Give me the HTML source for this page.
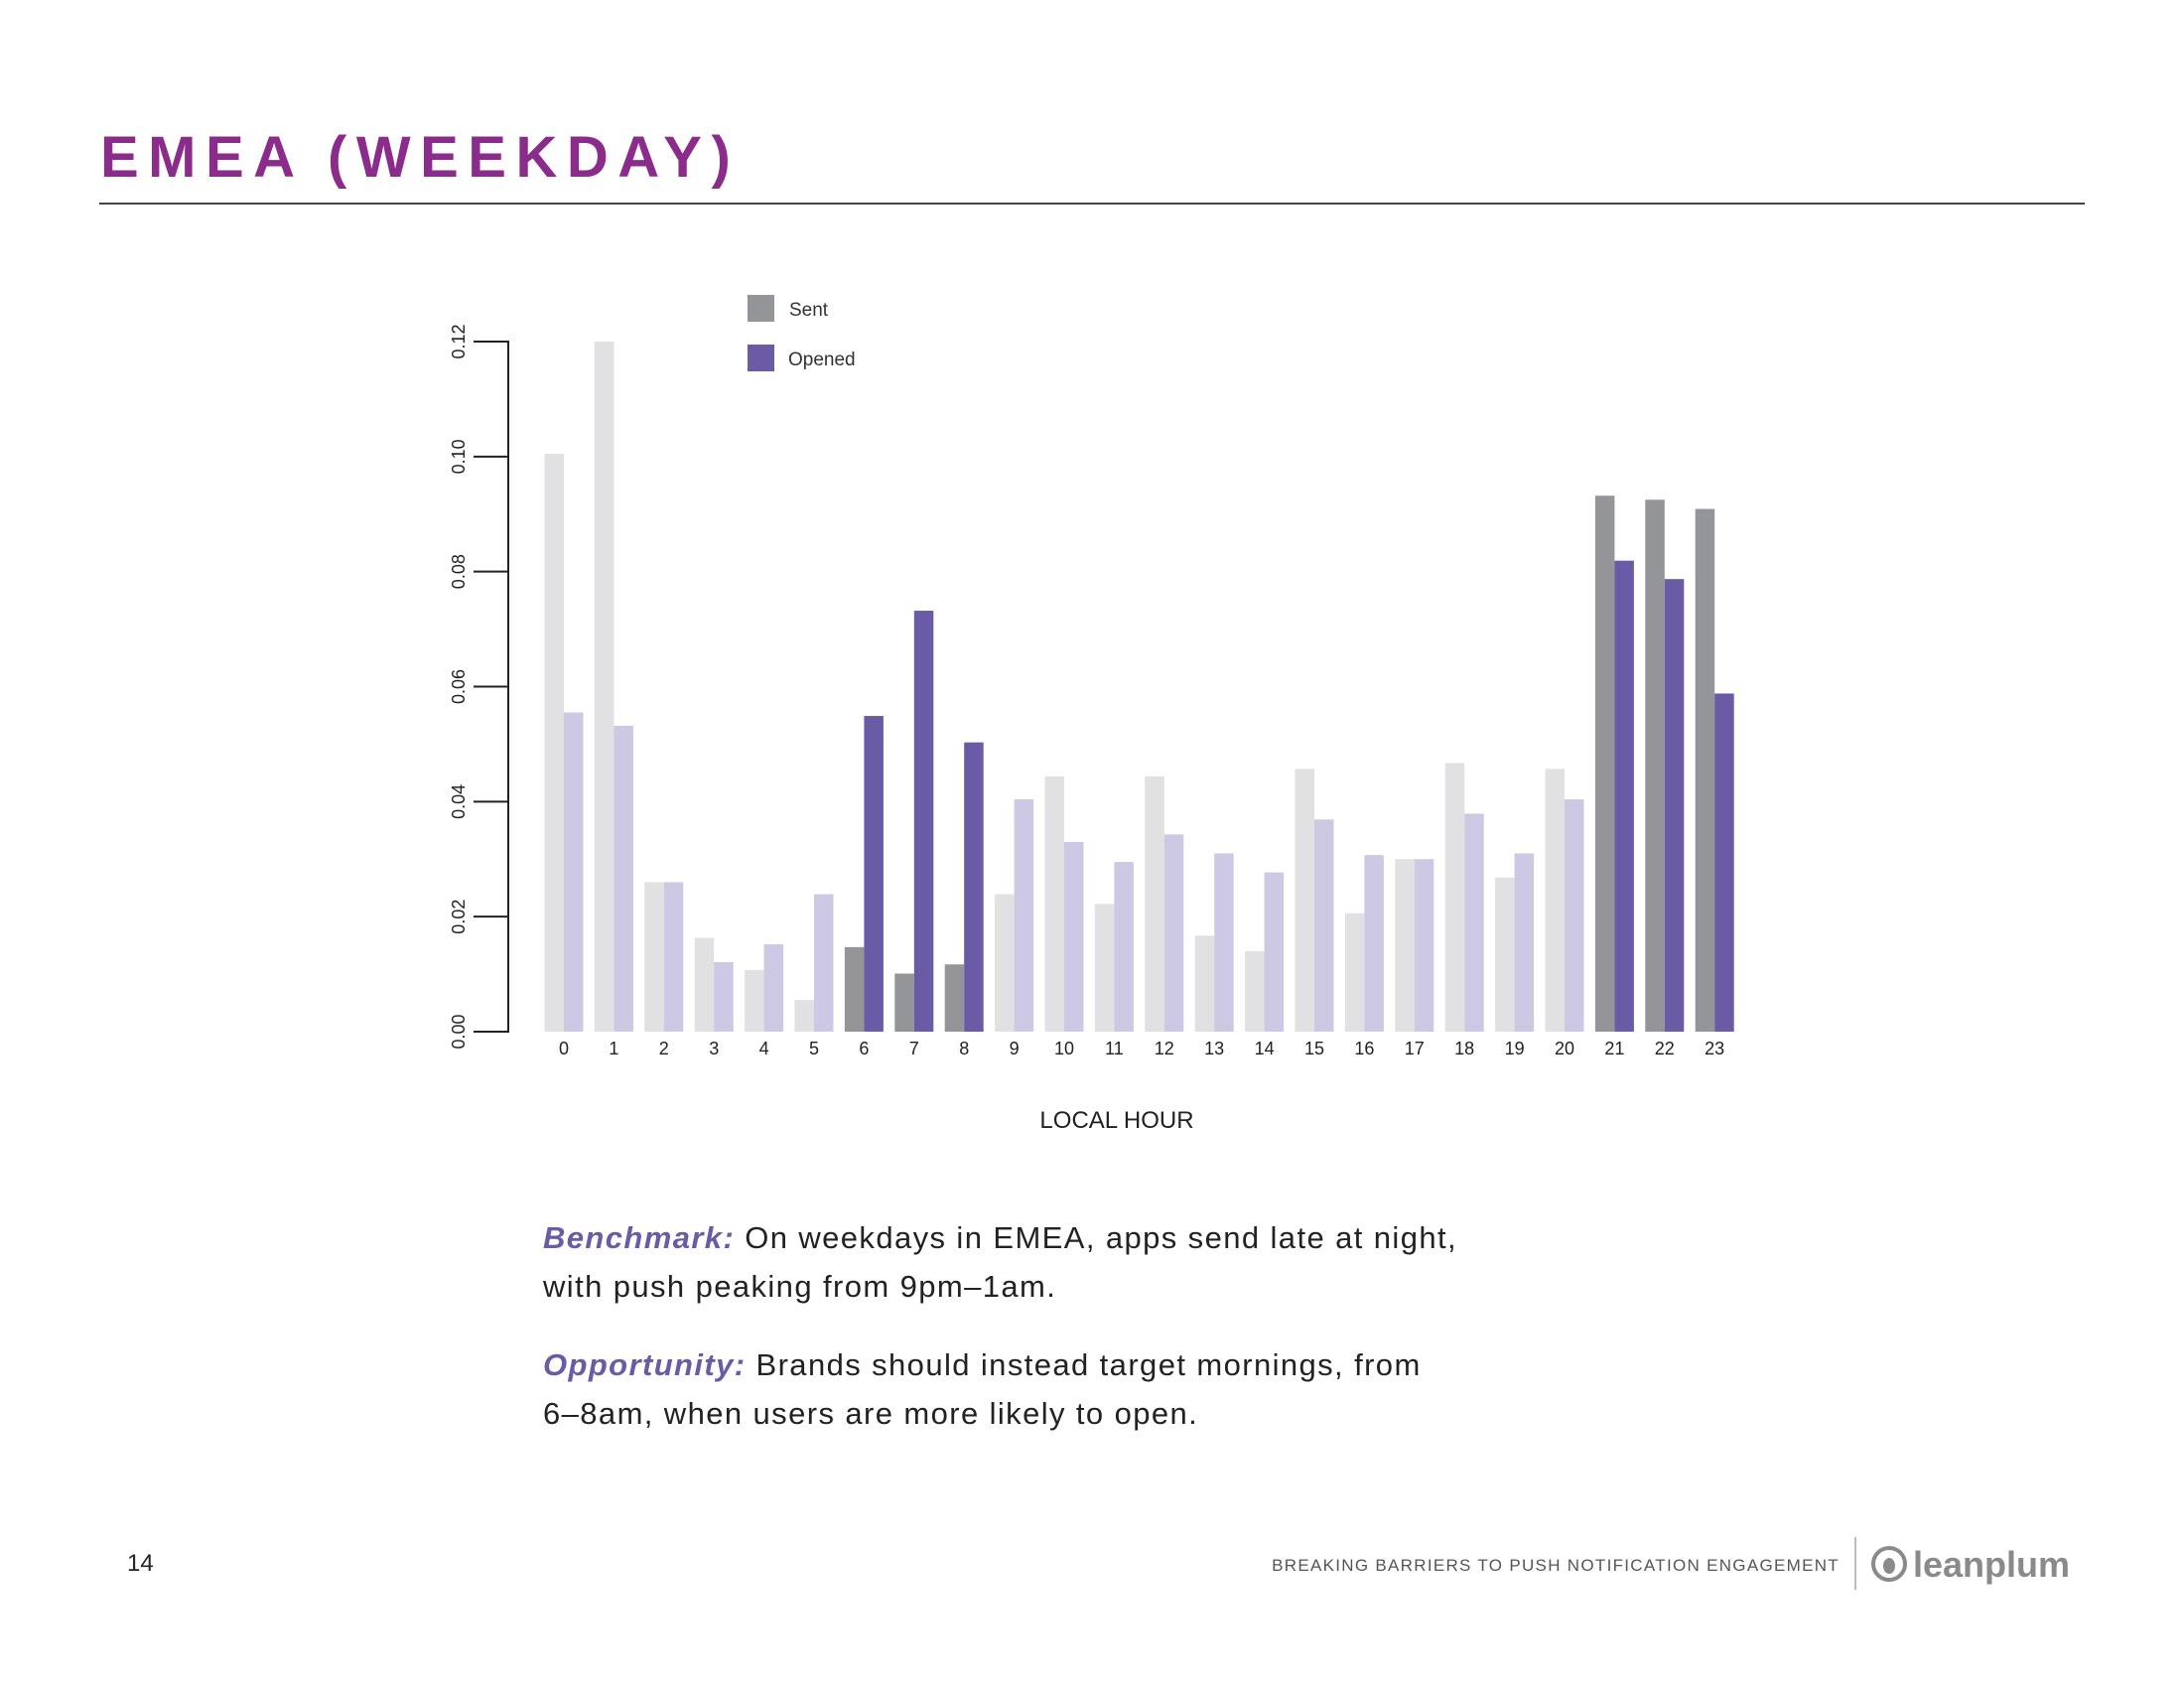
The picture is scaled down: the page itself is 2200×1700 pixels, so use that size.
<!DOCTYPE html>
<html><head><meta charset="utf-8">
<style>
html,body{margin:0;padding:0;background:#fff;}
body{width:2200px;height:1700px;position:relative;overflow:hidden;font-family:"Liberation Sans",sans-serif;}
svg{position:absolute;left:0;top:0;}
</style></head>
<body>
<svg id="chart" width="2200" height="1700" viewBox="0 0 2200 1700">
  <text x="101" y="178" font-family="Liberation Sans, sans-serif" font-weight="bold" font-size="58" letter-spacing="9.5" fill="#8b2b8c">EMEA (WEEKDAY)</text>
  <line x1="100" y1="205" x2="2100" y2="205" stroke="#444" stroke-width="2"/>
  <g id="bars"></g>
  <g id="axes"></g>
  <rect x="753" y="297" width="27" height="27" fill="#939598"/>
  <text x="795" y="318" font-size="19" fill="#333">Sent</text>
  <rect x="753" y="347" width="27" height="27" fill="#6b5aa6"/>
  <text x="794" y="368" font-size="19" fill="#333">Opened</text>
  <text x="1125" y="1136" font-size="24" fill="#222" text-anchor="middle">LOCAL HOUR</text>
  <g font-size="31" letter-spacing="1.4" fill="#222">
    <text x="547" y="1257"><tspan font-weight="bold" font-style="italic" fill="#6b5aa6">Benchmark:</tspan> On weekdays in EMEA, apps send late at night,</text>
    <text x="547" y="1306">with push peaking from 9pm–1am.</text>
  </g>
  <g font-size="31" letter-spacing="1.4" fill="#222">
    <text x="547" y="1385"><tspan font-weight="bold" font-style="italic" fill="#6b5aa6">Opportunity:</tspan> Brands should instead target mornings, from</text>
    <text x="547" y="1434">6–8am, when users are more likely to open.</text>
  </g>
  <text x="128" y="1582" font-size="24" fill="#222">14</text>
  <text x="1853" y="1582" font-size="17" fill="#555" letter-spacing="1.3" text-anchor="end">BREAKING BARRIERS TO PUSH NOTIFICATION ENGAGEMENT</text>
  <line x1="1869" y1="1548" x2="1869" y2="1601" stroke="#bbb" stroke-width="2"/>
  <g>
    <circle cx="1903" cy="1575" r="16" fill="none" stroke="#8a8a8a" stroke-width="4"/>
    <ellipse cx="1903" cy="1577" rx="6" ry="8" fill="#8a8a8a"/>
    <text x="1927" y="1588" font-size="36" font-weight="bold" fill="#8a8a8a">leanplum</text>
  </g>
</svg>
<script>
const hours = ["0","1","2","3","4","5","6","7","8","9","10","11","12","13","14","15","16","17","18","19","20","21","22","23"];
const sentValues = [0.1005,0.12,0.026,0.0163,0.0107,0.0055,0.0147,0.0101,0.0117,0.0239,0.0444,0.0222,0.0444,0.0167,0.014,0.0457,0.0206,0.030,0.0467,0.0268,0.0457,0.0932,0.0925,0.0909];
const openedValues = [0.0555,0.0532,0.026,0.0121,0.0152,0.0239,0.0549,0.0732,0.0503,0.0404,0.033,0.0295,0.0343,0.031,0.0277,0.0369,0.0307,0.030,0.0379,0.031,0.0404,0.0819,0.0787,0.0588];
const highlighted = ["6","7","8","21","22","23"];
const yTicks = ["0.00","0.02","0.04","0.06","0.08","0.10","0.12"];

const NS = "http://www.w3.org/2000/svg";
const Y0 = 1039, Y1 = 344, VMAX = 0.12;
const X0 = 568, STEP = 50.4, BW = 19.5;
function yScale(v){ return Y0 - (v / VMAX) * (Y0 - Y1); }
function xScale(i){ return X0 + i * STEP; }
function mk(tag, attrs){ const e = document.createElementNS(NS, tag); for (const k in attrs) e.setAttribute(k, attrs[k]); return e; }

const bars = document.getElementById('bars');
hours.forEach((h, i) => {
  const hi = highlighted.includes(h);
  const cx = xScale(i);
  const s = mk('rect', {x: cx - BW, y: yScale(sentValues[i]), width: BW, height: Y0 - yScale(sentValues[i]), fill: hi ? '#939598' : '#e1e1e3'});
  
  
  bars.appendChild(s);
  const o = mk('rect', {x: cx, y: yScale(openedValues[i]), width: BW, height: Y0 - yScale(openedValues[i]), fill: hi ? '#6b5aa6' : '#cdc8e3'});
  
  
  bars.appendChild(o);
  const t = mk('text', {x: cx, y: 1062, 'font-size': 18, fill: '#222', 'text-anchor': 'middle'});
  t.textContent = h;
  
  
  bars.appendChild(t);
});

const axes = document.getElementById('axes');
const yl = mk('line', {x1: 512, y1: Y1, x2: 512, y2: Y0, stroke: '#222', 'stroke-width': 2});


axes.appendChild(yl);
yTicks.forEach(lbl => {
  const y = yScale(parseFloat(lbl));
  const tk = mk('line', {x1: 477, y1: y, x2: 513, y2: y, stroke: '#222', 'stroke-width': 2});
  
  
  axes.appendChild(tk);
  const t = mk('text', {x: 468, y: y, 'font-size': 18, fill: '#222', 'text-anchor': 'middle', transform: 'rotate(-90 468 ' + y + ')'});
  t.textContent = lbl;
  
  
  axes.appendChild(t);
});
</script>
</body></html>
